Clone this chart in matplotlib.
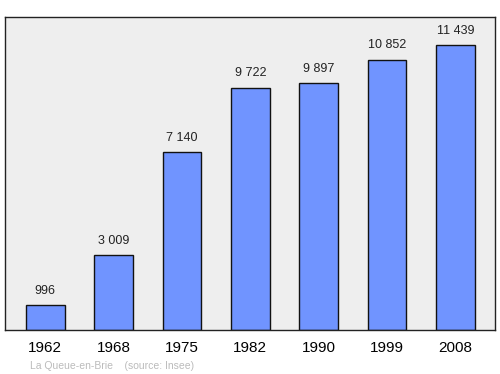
import matplotlib.pyplot as plt

# population data
years = ['1962', '1968', '1975', '1982', '1990', '1999', '2008']
population = [996, 3009, 7140, 9722, 9897, 10852, 11439]
value_labels = ['996', '3 009', '7 140', '9 722', '9 897', '10 852', '11 439']

plt.rcParams['font.family'] = ['Liberation Sans', 'DejaVu Sans']

fig = plt.figure(figsize=(5, 3.74), dpi=100)
ax = fig.add_axes([0.01, 0.1176, 0.98, 0.837])
ax.set_facecolor('#eeeeee')

x = range(len(years))
ax.bar(x, population, width=0.57, color='#7094ff', edgecolor='#111111', linewidth=1, zorder=2)

for i, (v, lab) in enumerate(zip(population, value_labels)):
    ax.text(i, v + 330, lab, ha='center', va='bottom', fontsize=9, color='#222222')

ax.set_xlim(-0.59, 6.58)
ax.set_ylim(0, 12560)
ax.set_yticks([])
ax.set_xticks(list(x))
ax.set_xticklabels(years, fontsize=11)
ax.tick_params(axis='x', length=0, pad=8)
for s in ax.spines.values():
    s.set_color('#222222')
    s.set_linewidth(1)

fig.text(0.06, 0.013, 'La Queue-en-Brie    (source: Insee)', fontsize=7.5, color='#bbbbbb')

fig.savefig('out.png', dpi=100)
